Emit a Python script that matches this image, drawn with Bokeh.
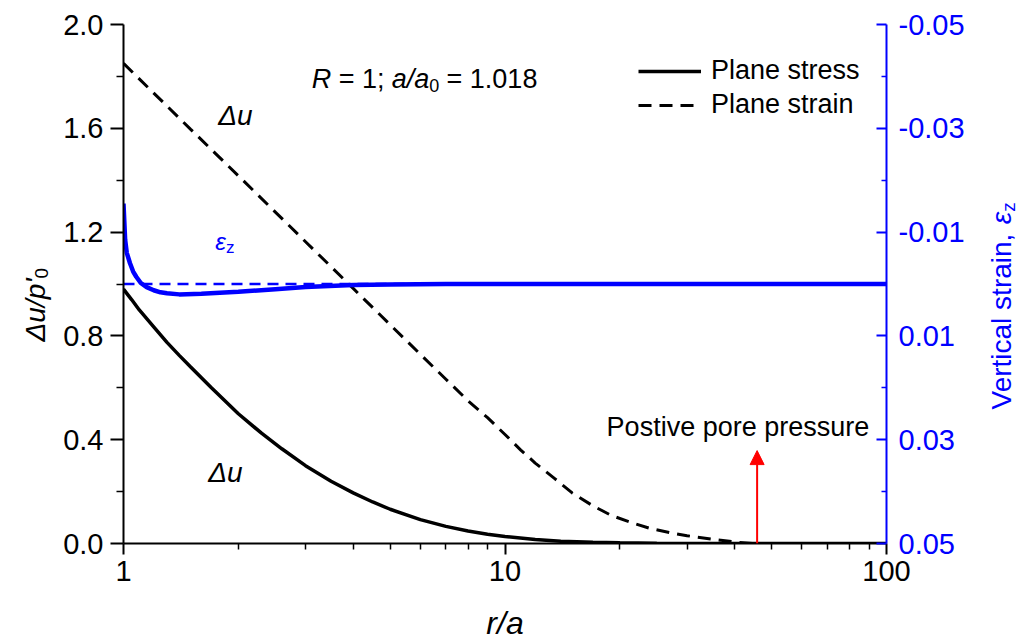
import math
from bokeh.plotting import figure
from bokeh.layouts import row
from bokeh.models import (Range1d, LinearAxis, FixedTicker, PrintfTickFormatter, Label,
                          Arrow, NormalHead, Legend, LegendItem)
from bokeh.embed import file_html
from bokeh.resources import INLINE

# ---------------- data ----------------
r_stress = [1, 1.05, 1.1, 1.2, 1.3, 1.4, 1.5, 1.7, 2, 2.3, 2.6, 3, 3.5, 4, 4.5, 5, 6, 7, 8,
            9, 10, 12, 14, 17, 20, 25, 30, 40, 100]
du_stress = [0.98, 0.94, 0.90, 0.835, 0.775, 0.725, 0.68, 0.60, 0.50, 0.425, 0.365, 0.30,
             0.24, 0.195, 0.16, 0.132, 0.092, 0.066, 0.048, 0.036, 0.027, 0.015, 0.009,
             0.0045, 0.0025, 0.001, 0.0004, 0.0, 0.0]

r_strain = [1, 1.5, 2, 3, 4, 5, 6, 7, 8, 9, 10, 11, 12, 13.5, 15, 17, 19, 21.5, 24, 27, 30,
            35, 41, 45, 60, 100]
du_strain = [1.85, 1.596, 1.417, 1.163, 0.983, 0.843, 0.729, 0.633, 0.55, 0.485, 0.42, 0.36,
             0.31, 0.25, 0.195, 0.145, 0.108, 0.08, 0.058, 0.042, 0.03, 0.016, 0.004, 0.0,
             -0.006, -0.008]

r_eps_stress = [1, 1.01, 1.02, 1.04, 1.06, 1.08, 1.11, 1.15, 1.2, 1.25, 1.3, 1.4, 1.6, 2,
                2.5, 3, 4, 5, 7, 10, 100]
eps_stress = [-0.0155, -0.0085, -0.0060, -0.0040, -0.0024, -0.0014, -0.0002, 0.0006, 0.0012,
              0.0016, 0.0018, 0.0020, 0.0019, 0.0015, 0.0010, 0.0006, 0.0002, 0.0001, 0.0,
              0.0, 0.0]

r_eps_strain = [1, 100]
eps_strain = [0.0, 0.0]

x_major = [1, 10, 100]
x_minor = [2, 3, 4, 5, 6, 7, 8, 9, 20, 30, 40, 50, 60, 70, 80, 90]
y_major = [0.0, 0.4, 0.8, 1.2, 1.6, 2.0]
y_minor = [0.2, 0.6, 1.0, 1.4, 1.8]
e_major = [-0.05, -0.03, -0.01, 0.01, 0.03, 0.05]
e_minor = [-0.04, -0.02, 0.0, 0.02, 0.04]

series_names = ["Plane stress", "Plane strain"]
arrow_r = 45.8
arrow_top = 0.358

# ---------------- layout ----------------
W, H = 1027, 644
LW, RW = 60, 42            # side strips holding the rotated axis titles
MW = W - LW - RW           # main figure width
FL, FR, FT, FB = 120, 886, 24, 543   # frame in page pixels
FONT = "Liberation Sans"
SH = 9                     # baseline compensation (px)

AW = {' ': 278, '=': 584, '1': 556, ';': 278, 'a': 556, '/': 278, '0': 556, '.': 278,
      '8': 556, 'R': 722, 'Δ': 668, 'u': 556, 'p': 556, "'": 191, 'V': 667, 'e': 556,
      'r': 333, 't': 278, 'i': 222, 'c': 500, 'l': 222, 's': 500, 'n': 556, ',': 278,
      'ε': 450, 'z': 500}


def tw(s, size):
    return sum(AW.get(ch, 556) for ch in s) * size / 1000.0


def rx(px):
    return 10 ** ((px - FL) / (FR - FL) * 2.0)


def ly(py):
    return (FB - py) / (FB - FT) * 2.0


p = figure(width=MW, height=H, x_axis_type="log", x_range=Range1d(1, 100),
           y_range=Range1d(0, 2), output_backend="svg", toolbar_location=None,
           min_border_left=FL - LW, min_border_right=(W - RW) - FR, min_border_top=FT,
           min_border_bottom=H - FB)
p.extra_y_ranges = {"eps": Range1d(start=0.05, end=-0.05)}
p.grid.visible = False
p.outline_line_color = None
p.background_fill_color = "white"
p.border_fill_color = "white"

TICK_FS = "29px"

# bottom axis
xa = p.xaxis[0]
xa.ticker = FixedTicker(ticks=x_major, minor_ticks=x_minor)
xa.formatter = PrintfTickFormatter(format="%d")
xa.axis_line_width = 2
xa.major_tick_line_width = 2
xa.minor_tick_line_width = 1.5
xa.major_tick_out = 11
xa.major_tick_in = 0
xa.minor_tick_out = 6
xa.minor_tick_in = 0
xa.major_label_text_font = FONT
xa.major_label_text_font_size = TICK_FS
xa.major_label_text_color = "black"
xa.major_label_standoff = 6
xa.axis_label = "r/a"
xa.axis_label_text_font = FONT
xa.axis_label_text_font_size = "32px"
xa.axis_label_text_font_style = "italic"
xa.axis_label_text_color = "black"
xa.axis_label_standoff = 21

# left axis
ya = p.yaxis[0]
ya.ticker = FixedTicker(ticks=y_major, minor_ticks=y_minor)
ya.formatter = PrintfTickFormatter(format="%.1f")
ya.axis_line_width = 2
ya.major_tick_line_width = 2
ya.minor_tick_line_width = 1.5
ya.major_tick_out = 13
ya.major_tick_in = 0
ya.minor_tick_out = 7
ya.minor_tick_in = 0
ya.major_label_text_font = FONT
ya.major_label_text_font_size = TICK_FS
ya.major_label_text_color = "black"
ya.major_label_standoff = 7

# right axis
ra = LinearAxis(y_range_name="eps", ticker=FixedTicker(ticks=e_major, minor_ticks=e_minor),
                formatter=PrintfTickFormatter(format="%.2f"))
ra.axis_line_color = "blue"
ra.axis_line_width = 2
ra.major_tick_line_color = "blue"
ra.minor_tick_line_color = "blue"
ra.major_tick_line_width = 2
ra.minor_tick_line_width = 1.5
ra.major_tick_in = 10
ra.major_tick_out = 0
ra.minor_tick_in = 5
ra.minor_tick_out = 0
ra.major_label_text_color = "blue"
ra.major_label_text_font = FONT
ra.major_label_text_font_size = TICK_FS
ra.major_label_standoff = 12
p.add_layout(ra, "right")

# curves
solid = p.line(r_stress, du_stress, line_color="black", line_width=3.5)
dashed = p.line(r_strain, du_strain, line_color="black", line_width=3, line_dash="13 8")
p.line(r_eps_stress, eps_stress, y_range_name="eps", line_color="blue", line_width=4.5)
p.line(r_eps_strain, eps_strain, y_range_name="eps", line_color="blue", line_width=2.5,
       line_dash="11 7")

# legend
legend = Legend(items=[LegendItem(label=series_names[0], renderers=[solid]),
                       LegendItem(label=series_names[1], renderers=[dashed])],
                location=(515, 423), label_text_font=FONT, label_text_font_size="27px",
                label_text_color="black",
                glyph_width=63, glyph_height=20, label_standoff=10, spacing=3, padding=0,
                margin=0, border_line_color=None, background_fill_alpha=0)
p.add_layout(legend)


def lab(text, px, py, size, italic=False, color="black"):
    p.add_layout(Label(x=rx(px), y=ly(py - SH), text=text, text_font=FONT,
                       text_font_size=f"{size}px",
                       text_font_style="italic" if italic else "normal",
                       text_color=color, text_align="left", text_baseline="alphabetic"))


# R = 1; a/a0 = 1.018
x0, base = 309, 87
lab("R", x0, base, 27, italic=True)
lab("= 1;", x0 + tw("R ", 27), base, 27)
xa0 = x0 + tw("R = 1; ", 27)
lab("a/a", xa0, base, 27, italic=True)
lab("0", xa0 + tw("a/a", 27), base + 7, 18)
lab("= 1.018", xa0 + tw("a/a", 27) + tw("0", 18) + tw(" ", 27), base, 27)

# curve labels
lab("Δu", 215, 124, 28, italic=True)
lab("Δu", 205, 481, 28, italic=True)
lab("ε", 212, 250, 24, italic=True, color="blue")
lab("z", 212 + tw("ε", 24), 256, 17, color="blue")

# annotation
lab("Postive pore pressure", 605, 435, 27)
p.add_layout(Arrow(end=NormalHead(size=14, fill_color="red", line_color="red"),
                   x_start=arrow_r, y_start=0.0, x_end=arrow_r, y_end=arrow_top,
                   line_color="red", line_width=2))


# ---------------- side strips for the rotated axis titles ----------------
# frames aligned with the main frame (rows align frames), y in page pixels
def strip(width):
    f = figure(width=width, height=H, x_range=Range1d(0, width), y_range=Range1d(FB, FT),
               output_backend="svg", toolbar_location=None, min_border_left=0,
               min_border_right=0, min_border_top=FT, min_border_bottom=H - FB)
    f.axis.visible = False
    f.grid.visible = False
    f.outline_line_color = None
    f.background_fill_color = "white"
    f.border_fill_color = "white"
    return f


A = math.pi / 2


def vlab(f, text, bx, by, size, italic=False, color="black"):
    f.add_layout(Label(x=bx - SH, y=by, text=text, text_font=FONT,
                       text_font_size=f"{size}px",
                       text_font_style="italic" if italic else "normal",
                       text_color=color, text_align="left", text_baseline="alphabetic",
                       angle=A))


left = strip(LW)
yb = 341
vlab(left, "Δu/p'", 44, yb, 28, italic=True)
vlab(left, "0", 50, yb - tw("Δu/p'", 28), 19)

right = strip(RW)
ox = W - RW
yb = 409
vlab(right, "Vertical strain,", 1010 - ox, yb, 28, color="blue")
yb -= tw("Vertical strain, ", 28)
vlab(right, "ε", 1010 - ox, yb, 28, italic=True, color="blue")
yb -= tw("ε", 28)
vlab(right, "z", 1017 - ox, yb, 19, color="blue")

layout = row(left, p, right, spacing=0)
open("out.html", "w").write(file_html(layout, INLINE))
